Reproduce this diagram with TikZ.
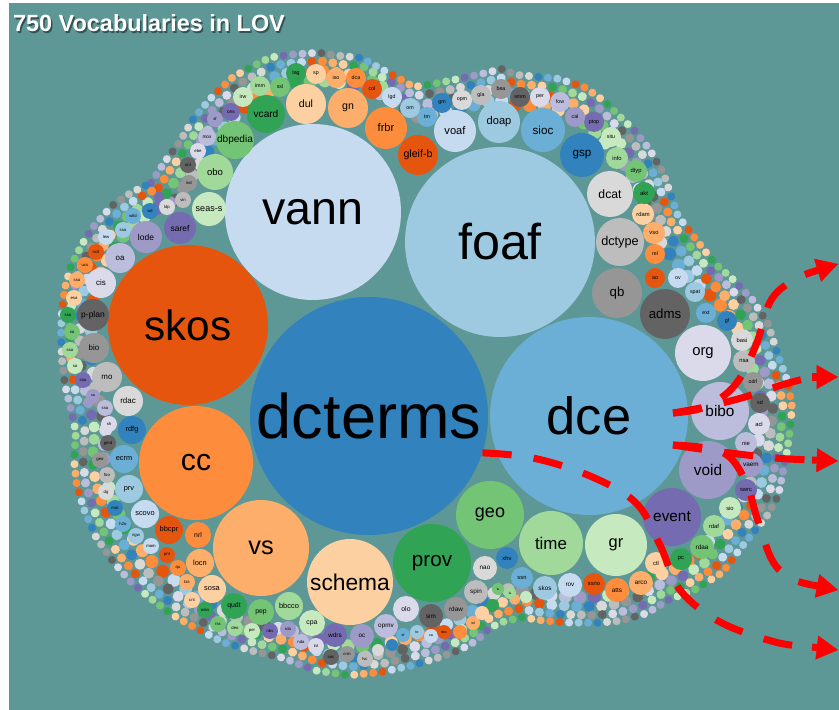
\documentclass[tikz,border=0pt]{standalone}
\usepackage{fontspec}
\setmainfont{Liberation Sans}
\usetikzlibrary{arrows.meta,calc,decorations.markings}

\definecolor{lovbg}{RGB}{94,152,150}
\definecolor{flowred}{RGB}{255,0,0}
\definecolor{c0}{HTML}{3182BD}
\definecolor{c1}{HTML}{6BAED6}
\definecolor{c2}{HTML}{9ECAE1}
\definecolor{c3}{HTML}{C6DBEF}
\definecolor{c4}{HTML}{E6550D}
\definecolor{c5}{HTML}{FD8D3C}
\definecolor{c6}{HTML}{FDAE6B}
\definecolor{c7}{HTML}{FDD0A2}
\definecolor{c8}{HTML}{31A354}
\definecolor{c9}{HTML}{74C476}
\definecolor{c10}{HTML}{A1D99B}
\definecolor{c11}{HTML}{C7E9C0}
\definecolor{c12}{HTML}{756BB1}
\definecolor{c13}{HTML}{9E9AC8}
\definecolor{c14}{HTML}{BCBDDC}
\definecolor{c15}{HTML}{DADAEB}
\definecolor{c16}{HTML}{636363}
\definecolor{c17}{HTML}{969696}
\definecolor{c18}{HTML}{BDBDBD}
\definecolor{c19}{HTML}{D9D9D9}

\begin{document}
\begin{tikzpicture}[
  x=0.03cm, y=-0.03cm,
  bub/.style 2 args={circle, inner sep=0pt, fill=#1, minimum size=#2*0.06cm,
    /utils/exec={\pgfmathsetmacro\fsz{0.452*#2}},
    font=\fontsize{\fsz}{\fsz}\selectfont},
  rim/.style n args={3}{decorate, decoration={markings,
    mark=between positions 0 and 1 step #2 with {
      \pgfmathtruncatemacro\ci{mod(\pgfkeysvalueof{/pgf/decoration/mark info/sequence number}+#3,20)}
      \fill[c\ci] (0,0) circle (#1);}}},
  flow/.style={color=flowred, line width=6pt, dash pattern=on 25pt off 19pt},
  tip/.style={color=flowred, line width=6pt, solid,
    -{Triangle[length=0.64cm,width=0.72cm,fill=flowred,line width=0.4pt]}}
]
\fill[white] (0,0) rectangle (839,710);
\fill[lovbg] (9,3) rectangle (839,710);
\useasboundingbox (0,0) rectangle (839,710);

\foreach \x/\y [count=\i] in {147/180, 160/160, 175/140, 190/115, 207/95, 230/73,
  248/63, 268/53, 290/50, 317/48, 337/51, 360/53, 380/64, 397/73, 413/82, 433/79,
  453/75, 473/71, 490/67, 503/64, 517/70, 540/72, 560/74, 587/83, 607/97, 622/112,
  637/126, 653/146, 667/170, 675/193, 682/213, 695/230, 708/247, 720/262, 735/275,
  757/298, 773/323, 783/355, 793/383, 797/407, 795/430, 792/452, 788/472, 783/497,
  772/517, 760/532, 743/553, 727/575, 700/592, 673/603, 650/617, 623/625, 600/627,
  567/627, 543/625, 523/622, 503/627, 490/633, 478/645, 460/655, 440/662, 413/670,
  380/677, 347/680, 313/675, 280/662, 250/655, 220/646, 193/632, 167/617, 145/600,
  125/583, 108/563, 92/540, 80/513, 72/487, 69/460, 71/433, 66/410, 60/385, 57/360,
  56/335, 57/310, 60/287, 66/265, 77/243, 90/223, 108/203, 127/190}
  {\coordinate (b\i) at (\x,\y);}
\coordinate (mid) at (450,390);

\foreach \d/\r/\s/\o in {1.05cm/0.195cm/0.435cm/15, 0.72cm/0.165cm/0.375cm/7,
  0.42cm/0.135cm/0.315cm/3, 0.15cm/0.12cm/0.285cm/11}
  {\path[rim={\r}{\s}{\o}] ($(b1)!\d!(mid)$)
     \foreach \i in {2,...,89} { -- ($(b\i)!\d!(mid)$) } -- cycle;}

\node[bub={c0}{119}] (dcterms) at (369,416) {dcterms};
\node[bub={c1}{99}] (dce) at (589,416) {dce};
\node[bub={c2}{95}] (foaf) at (500,242) {foaf};
\node[bub={c3}{88}] (vann) at (313,212) {vann};
\node[bub={c4}{80}] (skos) at (188,325) {skos};
\node[bub={c5}{57}] (cc) at (196,463) {cc};
\node[bub={c6}{48}] (vs) at (261,548) {vs};
\node[bub={c7}{43}] (schema) at (350,582) {schema};
\node[bub={c8}{39}] (prov) at (432,563) {prov};
\node[bub={c9}{34}] (geo) at (490,515) {geo};
\node[bub={c10}{32}] (time) at (551,543) {time};
\node[bub={c11}{31}] (gr) at (616,545) {gr};
\node[bub={c12}{29}] (event) at (672,517) {event};
\node[bub={c13}{29}] (void) at (708,470) {void};
\node[bub={c14}{29}] (bibo) at (720,411) {bibo};
\node[bub={c15}{28}] (org) at (703,353) {org};
\node[bub={c16}{25}] (adms) at (665,314) {adms};
\node[bub={c17}{25}] (qb) at (617,293) {qb};
\node[bub={c18}{24}] (dctype) at (620,242) {dctype};
\node[bub={c19}{23}] (dcat) at (610,194) {dcat};

\foreach \t/\x/\y/\r [count=\k from 0] in {gsp/582/155/22, sioc/543/130/22,
  doap/499/122/21, voaf/455/131/21, gleif-b/418/155/20, frbr/386/128/21,
  gn/348/108/20, dul/306/104/20, vcard/266/114/19, dbpedia/235/140/19,
  obo/215/172/18, seas-s/209/209/17, saref/180/228/16, lode/146/237/16,
  oa/120/258/15, cis/101/283/15, p-plan/93/315/16, bio/94/348/15, mo/107/377/15,
  rdac/128/401/15, rdfg/132/430/14, ecrm/124/459/14, prv/129/489/14,
  scovo/145/514/14, bbcpr/169/530/14, nrl/198/535/13, locn/200/563/14,
  sosa/212/589/14, qudt/234/606/13, pep/261/612/13, bbcco/289/606/14,
  cpa/312/623/13, wdrs/335/635/12, oc/362/636/12, opmv/386/626/12, olo/406/609/13,
  sim/431/616/12, rdaw/456/609/12, spin/476/592/12, nao/485/568/12, xhv/507/558/11,
  ssn/522/578/11, skos/545/588/12, rov/570/585/12, ssno/594/584/11, atts/617/590/12,
  arco/641/583/12, ctl/656/563/11, pc/681/559/11, rdaa/702/547/12, rdaf/714/526/11,
  sio/730/508/11, swrc/746/490/11, vaem/751/465/12, nie/746/443/11, acl/759/424/11,
  sd/760/403/10, odrl/753/382/10, nsa/744/361/11, basi/742/340/11, gf/727/321/10,
  ext/706/313/10, spat/695/292/10, ov/678/278/10, ao/655/278/10, rel/655/254/10,
  vso/654/233/11, rdam/643/214/11, akt/644/193/11, dtyp/636/171/11, info/617/158/11,
  situ/611/137/10, ptop/594/122/10, cal/575/117/10, fow/560/102/10, per/540/97/10,
  smm/520/97/10, bea/501/89/10, gla/481/95/10, opm/462/100/10, gm/442/103/10,
  tm/427/117/10, om/410/108/10, lgd/392/97/10, col/372/89/10, dca/356/78/10,
  iso/336/78/10, sp/316/74/10, tag/296/73/10, ssl/280/87/10, imm/260/86/10,
  irw/243/97/10, ons/231/112/9, sf/215/119/8, mox/207/137/9, ebe/198/151/8,
  ont/188/165/8, ind/189/183/8, vin/183/200/8, ldp/167/207/8, wil/150/211/8,
  wild/133/216/8, ssa/123/230/8, lew/106/237/8, ncit/96/252/8, ucs/85/265/8,
  ssa/77/280/8, esa/74/298/8, ssa/68/315/8, sa/72/332/8, ssa/70/350/8, sa/75/366/8,
  ssa/83/380/8, sa/93/396/7, ssa/105/408/8, sh/109/424/8, gmd/108/443/8,
  geo/100/460/8, foo/107/475/8, dg/106/492/8, mat/115/508/8, h2o/123/524/8,
  ngw/136/536/8, mam/151/546/8, pnt/167/555/8, qu/178/568/8, bis/187/582/8,
  cnt/192/600/8, wiss/205/610/8, rss/218/624/8, deo/235/628/8, per/252/631/8,
  nbs/270/631/8, rda/288/629/8, nda/301/642/8, int/316/646/8, snc/331/657/8,
  crm/347/654/8, lvc/365/659/8, /378/650/6, /392/645/6, sf/403/635/7, to/417/632/7,
  ca/431/636/7, doc/444/632/7, /460/632/7, wl/473/623/7, /482/613/7, /493/605/6,
  la/498/589/6, la/510/593/6, /526/597/6}
  {\pgfmathtruncatemacro\ci{mod(\k,20)}
   \node[bub={c\ci}{\r}] (v\k) at (\x,\y) {\t};}

\coordinate (dceN) at (673,413);
\coordinate (dceS) at (673,445);
\coordinate (preA) at (812,647);
\coordinate (preB) at (812,585);
\coordinate (preC) at (812,460);
\coordinate (preD) at (812,272);
\coordinate (preE) at (812,377);
\coordinate (endA) at (838,650);
\coordinate (endB) at (838,590);
\coordinate (endC) at (838,461);
\coordinate (endD) at (838,264);
\coordinate (endE) at (838,377);

\draw[flow] plot[smooth, tension=0.6] coordinates {(dcterms.-18) (533,458) (590,476)
  (636,503) (660,545) (680,590) (720,622) (775,642) (preA)};
\draw[flow] plot[smooth, tension=0.6] coordinates {(dceS) (722,452) (745,480)
  (757,518) (772,560) (790,578) (preB)};
\draw[flow] plot[smooth, tension=0.6] coordinates {(dceS) (722,452) (775,458) (preC)};
\draw[flow] plot[smooth, tension=0.6] coordinates {(dceN) (705,407) (735,385)
  (756,345) (770,302) (790,282) (preD)};
\draw[flow] plot[smooth, tension=0.6] coordinates {(dceN) (705,407) (745,397)
  (785,384) (preE)};
\foreach \e in {A,B,C,D,E}
  \draw[tip] (pre\e) -- (end\e);

\node[font=\bfseries\fontsize{20}{24}\selectfont, text=black, opacity=0.45,
  anchor=base west] (shadow) at (10.5,33.5) {750 Vocabularies in LOV};
\node[font=\bfseries\fontsize{20}{24}\selectfont, text=white,
  anchor=base west] (title) at (9,32) {750 Vocabularies in LOV};
\end{tikzpicture}
\end{document}
